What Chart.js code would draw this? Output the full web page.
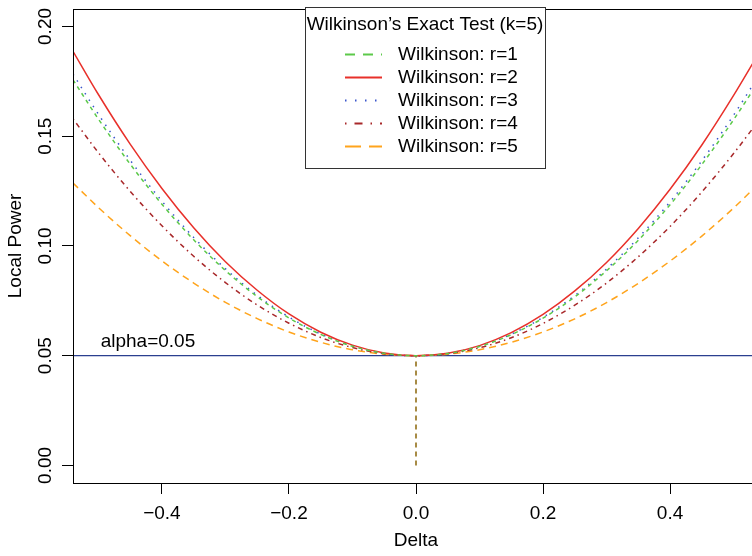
<!DOCTYPE html>
<html>
<head>
<meta charset="utf-8">
<title>Wilkinson's Exact Test – Local Power</title>
<script src="https://cdn.jsdelivr.net/npm/chart.js@4/dist/chart.umd.min.js"></script>
<style>
  html, body { margin: 0; padding: 0; background: #fff; overflow: hidden; }
  canvas { display: block; }
</style>
</head>
<body>
<canvas id="powerChart" width="760" height="556"></canvas>
<script>
// === Values ===
const delta   = [-0.54, -0.5, -0.45, -0.4, -0.35, -0.3, -0.25, -0.2, -0.15, -0.1, -0.05, 0,
                 0.05, 0.1, 0.15, 0.2, 0.25, 0.3, 0.35, 0.4, 0.45, 0.5, 0.54];
const powerR1 = [0.1757, 0.1578, 0.1373, 0.1190, 0.1028, 0.0888, 0.0769, 0.0672, 0.0597, 0.0543, 0.0511, 0.0500,
                 0.0510, 0.0542, 0.0596, 0.0671, 0.0768, 0.0887, 0.1026, 0.1188, 0.1371, 0.1575, 0.1752];
const powerR2 = [0.1887, 0.1690, 0.1464, 0.1262, 0.1083, 0.0928, 0.0798, 0.0690, 0.0607, 0.0548, 0.0512, 0.0500,
                 0.0511, 0.0546, 0.0605, 0.0688, 0.0795, 0.0925, 0.1080, 0.1258, 0.1460, 0.1686, 0.1880];
const powerR3 = [0.1783, 0.1600, 0.1391, 0.1204, 0.1039, 0.0896, 0.0775, 0.0676, 0.0599, 0.0544, 0.0511, 0.0500,
                 0.0510, 0.0543, 0.0598, 0.0675, 0.0774, 0.0895, 0.1037, 0.1201, 0.1388, 0.1596, 0.1778];
const powerR4 = [0.1579, 0.1425, 0.1249, 0.1092, 0.0953, 0.0833, 0.0731, 0.0648, 0.0583, 0.0537, 0.0509, 0.0500,
                 0.0509, 0.0536, 0.0582, 0.0647, 0.0730, 0.0831, 0.0951, 0.1089, 0.1246, 0.1421, 0.1573];
const powerR5 = [0.1287, 0.1175, 0.1047, 0.0932, 0.0831, 0.0743, 0.0669, 0.0608, 0.0561, 0.0527, 0.0507, 0.0500,
                 0.0507, 0.0527, 0.0561, 0.0608, 0.0668, 0.0742, 0.0830, 0.0931, 0.1045, 0.1173, 0.1285];

const alphaX = [-0.54, 0.54];
const alphaY = [0.05, 0.05];
const zeroX  = [0, 0];
const zeroY  = [0, 0.05];

const xTicks = [-0.4, -0.2, 0, 0.2, 0.4];
const yTicks = [0, 0.05, 0.1, 0.15, 0.2];

const seriesLabels = ["Wilkinson: r=1", "Wilkinson: r=2", "Wilkinson: r=3", "Wilkinson: r=4", "Wilkinson: r=5"];
const legendTitle  = "Wilkinson\u2019s Exact Test (k=5)";
const alphaLabel   = "alpha=0.05";

const FONT = '"Liberation Sans", Arial, Helvetica, sans-serif';
Chart.defaults.font.family = FONT;
Chart.defaults.font.size = 19;
Chart.defaults.color = "#000";

const pts = (xs, ys) => xs.map((x, i) => ({ x, y: ys[i] }));

function curve(label, values, color, dash, legendDash) {
  return {
    label,
    data: pts(delta, values),
    borderColor: color,
    borderWidth: 1.5,
    borderDash: dash,
    legendDash,
    pointRadius: 0,
    cubicInterpolationMode: "monotone",
    fill: false,
  };
}

// === Box around the plot region ===
const frame = {
  id: "frame",
  afterDatasetsDraw(chart) {
    const { ctx, chartArea: a } = chart;
    ctx.save();
    ctx.strokeStyle = "#000";
    ctx.lineWidth = 1;
    ctx.strokeRect(Math.round(a.left) + 0.5, Math.round(a.top) + 0.5,
                   Math.round(a.right - a.left), Math.round(a.bottom - a.top));
    ctx.restore();
  },
};

// === "alpha=0.05" note above the reference line ===
const alphaNote = {
  id: "alphaNote",
  afterDatasetsDraw(chart) {
    const { ctx, scales } = chart;
    ctx.save();
    ctx.font = "19px " + FONT;
    ctx.fillStyle = "#000";
    ctx.textAlign = "center";
    ctx.textBaseline = "alphabetic";
    ctx.fillText(alphaLabel, scales.x.getPixelForValue(-0.422), scales.y.getPixelForValue(0.05) - 9);
    ctx.restore();
  },
};

// === Boxed legend inside the plot ===
const boxLegend = {
  id: "boxLegend",
  afterDraw(chart) {
    const ctx = chart.ctx;
    const L = 305, T = 7, R = 545, B = 168;
    ctx.save();
    ctx.fillStyle = "#fff";
    ctx.fillRect(L, T, R - L, B - T);
    ctx.strokeStyle = "#333";
    ctx.lineWidth = 1;
    ctx.strokeRect(L + 0.5, T + 0.5, R - L, B - T);

    ctx.font = "19px " + FONT;
    ctx.fillStyle = "#000";
    ctx.textBaseline = "middle";
    ctx.textAlign = "center";
    ctx.fillText(legendTitle, (L + R) / 2, 25);

    ctx.textAlign = "left";
    chart.data.datasets.slice(0, 5).forEach((ds, i) => {
      const y = 54.5 + i * 23;
      ctx.beginPath();
      ctx.setLineDash(ds.legendDash || []);
      ctx.strokeStyle = ds.borderColor;
      ctx.lineWidth = 2;
      ctx.moveTo(345, y);
      ctx.lineTo(382, y);
      ctx.stroke();
      ctx.setLineDash([]);
      ctx.fillText(ds.label, 398, y);
    });
    ctx.restore();
  },
};

new Chart(document.getElementById("powerChart"), {
  type: "line",
  data: {
    datasets: [
      curve(seriesLabels[0], powerR1, "#5cc94a", [4, 4], [10, 8]),
      curve(seriesLabels[1], powerR2, "#e8302a", [], []),
      curve(seriesLabels[2], powerR3, "#3a56cc", [1.5, 6], [1.5, 8.5]),
      curve(seriesLabels[3], powerR4, "#a8282a", [1.5, 4, 5, 4], [1.5, 8, 8, 8]),
      curve(seriesLabels[4], powerR5, "#ffa41c", [7, 5], [16, 8]),
      {
        label: "alpha",
        data: pts(alphaX, alphaY),
        borderColor: "#2b3f8f",
        borderWidth: 1.2,
        pointRadius: 0,
      },
      {
        label: "zero",
        data: pts(zeroX, zeroY),
        borderColor: "#8b6508",
        borderWidth: 1.5,
        borderDash: [5, 4],
        pointRadius: 0,
      },
    ],
  },
  options: {
    responsive: false,
    animation: false,
    layout: { padding: { top: 6, right: 1, left: 0, bottom: 0 } },
    plugins: {
      legend: { display: false },
      tooltip: { enabled: false },
    },
    scales: {
      x: {
        type: "linear",
        min: -0.54,
        max: 0.54,
        afterBuildTicks: (s) => { s.ticks = xTicks.map((v) => ({ value: v })); },
        afterFit: (s) => { s.height = 73; },
        border: { display: false },
        grid: { drawOnChartArea: false, drawTicks: true, tickLength: 11, color: "#000" },
        ticks: {
          padding: 8,
          maxRotation: 0,
          autoSkip: false,
          callback: (v) => (v < 0 ? "\u2212" + Math.abs(v).toFixed(1) : v.toFixed(1)),
        },
        title: { display: true, text: "Delta", padding: { top: 0, bottom: 4 } },
      },
      y: {
        type: "linear",
        min: -0.008,
        max: 0.208,
        afterBuildTicks: (s) => { s.ticks = yTicks.map((v) => ({ value: v })); },
        afterFit: (s) => { s.width = 73; },
        border: { display: false },
        grid: { drawOnChartArea: false, drawTicks: true, tickLength: 11, color: "#000" },
        ticks: {
          padding: -2.5,
          minRotation: 90,
          maxRotation: 90,
          crossAlign: "center",
          callback: (v) => v.toFixed(2),
        },
        title: { display: true, text: "Local Power", padding: { top: 4, bottom: 0 } },
      },
    },
  },
  plugins: [frame, alphaNote, boxLegend],
});
</script>
</body>
</html>
